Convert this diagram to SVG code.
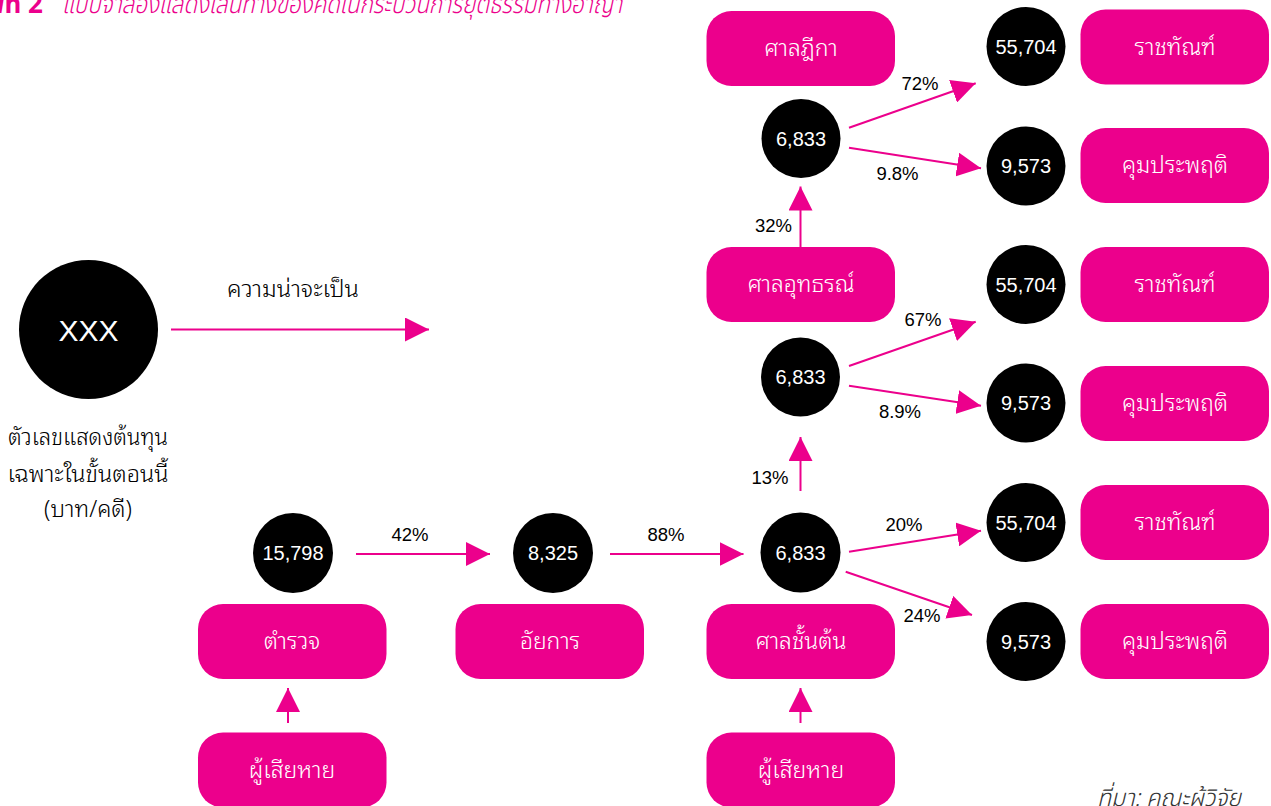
<svg xmlns="http://www.w3.org/2000/svg" width="1271" height="806" viewBox="0 0 1271 806">
<defs>
<style>
.box{fill:#EC008C}
.bt{fill:#fff;font-family:"Noto Sans Thai Looped","Noto Sans Thai","Noto Sans","DejaVu Sans",sans-serif;font-size:23px;font-weight:300;text-anchor:middle}
.c{fill:#000}
.ct{fill:#fff;font-family:"Liberation Sans",Arial,sans-serif;font-size:20px;text-anchor:middle}
.lbl{fill:#000;font-family:"Liberation Sans",Arial,sans-serif;font-size:18.5px;text-anchor:middle}
.th{fill:#000;font-family:"Noto Sans Thai Looped","Noto Sans Thai","Noto Sans","DejaVu Sans",sans-serif;font-size:23px;font-weight:300;text-anchor:middle}
.conn line{stroke:#EC008C;stroke-width:2;marker-end:url(#ah)}
</style>
<marker id="ah" viewBox="0 0 24 24" markerWidth="24" markerHeight="24" refX="24" refY="12" orient="auto" markerUnits="userSpaceOnUse">
<path d="M0,0 L24,12 L0,24 z" fill="#EC008C"/>
</marker>
</defs>
<rect width="1271" height="806" fill="#fff"/>

<g id="title">
<text x="43" y="13" text-anchor="end" font-family="'Noto Sans Thai','Noto Sans',sans-serif" font-size="26" font-weight="bold" fill="#EC008C">ภาพที่ 2</text>
<text x="62" y="13" font-family="'Noto Sans Thai','Noto Sans',sans-serif" font-size="26" font-style="italic" font-weight="300" fill="#EC008C" textLength="560" lengthAdjust="spacingAndGlyphs">แบบจำลองแสดงเส้นทางของคดีในกระบวนการยุติธรรมทางอาญา</text>
</g>

<g id="legend">
<circle class="c" cx="88.5" cy="329.5" r="69.5"/>
<text class="ct" x="88.5" y="341" style="font-size:30px">XXX</text>
<text class="th" x="88" y="445" textLength="160" lengthAdjust="spacingAndGlyphs">ตัวเลขแสดงต้นทุน</text>
<text class="th" x="88" y="482" textLength="161" lengthAdjust="spacingAndGlyphs">เฉพาะในขั้นตอนนี้</text>
<text class="th" x="88" y="517">(บาท/คดี)</text>
<text class="th" x="293" y="297" textLength="132" lengthAdjust="spacingAndGlyphs">ความน่าจะเป็น</text>
</g>

<g id="connectors" class="conn">
<line x1="171" y1="329.5" x2="429" y2="329.5"/>
<line x1="356" y1="554" x2="490" y2="554"/>
<line x1="610" y1="554" x2="743.5" y2="554"/>
<line x1="288" y1="723" x2="288" y2="688"/>
<line x1="800.5" y1="723" x2="800.5" y2="688"/>
<line x1="800.5" y1="491" x2="800.5" y2="437"/>
<line x1="800.5" y1="247" x2="800.5" y2="186.5"/>
<line x1="849" y1="127.7" x2="975.7" y2="83.3"/>
<line x1="849" y1="147.7" x2="981" y2="168.3"/>
<line x1="849" y1="366" x2="975.7" y2="321.7"/>
<line x1="849" y1="385.7" x2="981" y2="405.7"/>
<line x1="849" y1="551.7" x2="981" y2="530.7"/>
<line x1="845.7" y1="571.7" x2="972" y2="615"/>
</g>

<g id="connector-labels">
<text class="lbl" x="410" y="541">42%</text>
<text class="lbl" x="666" y="541">88%</text>
<text class="lbl" x="773.5" y="232">32%</text>
<text class="lbl" x="770" y="484">13%</text>
<text class="lbl" x="920" y="90">72%</text>
<text class="lbl" x="897.5" y="180">9.8%</text>
<text class="lbl" x="923" y="326">67%</text>
<text class="lbl" x="900" y="418">8.9%</text>
<text class="lbl" x="904" y="531">20%</text>
<text class="lbl" x="922" y="622">24%</text>
</g>

<g id="police"><rect class="box" x="198" y="604" width="188.5" height="75" rx="25"/><text class="bt" x="292" y="649">ตำรวจ</text></g>
<g id="victim1"><rect class="box" x="198" y="732.5" width="188.5" height="75" rx="25"/><text class="bt" x="292" y="778">ผู้เสียหาย</text></g>
<g id="prosecutor"><rect class="box" x="455.5" y="604" width="188.5" height="75" rx="25"/><text class="bt" x="550" y="649">อัยการ</text></g>
<g id="court1"><rect class="box" x="706.5" y="604" width="188.5" height="75" rx="25"/><text class="bt" x="801" y="649">ศาลชั้นต้น</text></g>
<g id="victim2"><rect class="box" x="706.5" y="732.5" width="188.5" height="75" rx="25"/><text class="bt" x="801" y="778">ผู้เสียหาย</text></g>
<g id="appeal"><rect class="box" x="706.5" y="247" width="188.5" height="75" rx="25"/><text class="bt" x="801" y="292">ศาลอุทธรณ์</text></g>
<g id="supreme"><rect class="box" x="706.5" y="11" width="188.5" height="75" rx="25"/><text class="bt" x="801" y="56">ศาลฎีกา</text></g>

<g id="prison1"><rect class="box" x="1080.5" y="9.5" width="188.5" height="75" rx="25"/><text class="bt" x="1175" y="55">ราชทัณฑ์</text></g>
<g id="probation1"><rect class="box" x="1080.5" y="128" width="188.5" height="75" rx="25"/><text class="bt" x="1175" y="173">คุมประพฤติ</text></g>
<g id="prison2"><rect class="box" x="1080.5" y="247" width="188.5" height="75" rx="25"/><text class="bt" x="1175" y="292">ราชทัณฑ์</text></g>
<g id="probation2"><rect class="box" x="1080.5" y="366" width="188.5" height="75" rx="25"/><text class="bt" x="1175" y="411">คุมประพฤติ</text></g>
<g id="prison3"><rect class="box" x="1080.5" y="485" width="188.5" height="75" rx="25"/><text class="bt" x="1175" y="530">ราชทัณฑ์</text></g>
<g id="probation3"><rect class="box" x="1080.5" y="604" width="188.5" height="75" rx="25"/><text class="bt" x="1175" y="649">คุมประพฤติ</text></g>

<g id="n-police"><circle class="c" cx="293" cy="553" r="40"/><text class="ct" x="293" y="560">15,798</text></g>
<g id="n-prosecutor"><circle class="c" cx="553" cy="553" r="40"/><text class="ct" x="553" y="560">8,325</text></g>
<g id="n-court1"><circle class="c" cx="800.5" cy="552.5" r="40"/><text class="ct" x="800.5" y="559.5">6,833</text></g>
<g id="n-appeal"><circle class="c" cx="800.5" cy="377" r="39.5"/><text class="ct" x="800.5" y="384">6,833</text></g>
<g id="n-supreme"><circle class="c" cx="801" cy="138.5" r="39.5"/><text class="ct" x="801" y="145.5">6,833</text></g>
<g id="n-prison1"><circle class="c" cx="1026" cy="46.5" r="39.5"/><text class="ct" x="1026" y="53.5">55,704</text></g>
<g id="n-probation1"><circle class="c" cx="1026" cy="166" r="39.5"/><text class="ct" x="1026" y="173">9,573</text></g>
<g id="n-prison2"><circle class="c" cx="1026" cy="284.5" r="39.5"/><text class="ct" x="1026" y="291.5">55,704</text></g>
<g id="n-probation2"><circle class="c" cx="1026" cy="403" r="39.5"/><text class="ct" x="1026" y="410">9,573</text></g>
<g id="n-prison3"><circle class="c" cx="1026" cy="522.5" r="39.5"/><text class="ct" x="1026" y="529.5">55,704</text></g>
<g id="n-probation3"><circle class="c" cx="1026" cy="641.5" r="39.5"/><text class="ct" x="1026" y="648.5">9,573</text></g>

<g id="source">
<text x="1097" y="806" font-family="'Noto Sans Thai','Noto Sans',sans-serif" font-size="24" font-style="italic" font-weight="300" fill="#333" textLength="144" lengthAdjust="spacingAndGlyphs">ที่มา: คณะผู้วิจัย</text>
</g>
</svg>
